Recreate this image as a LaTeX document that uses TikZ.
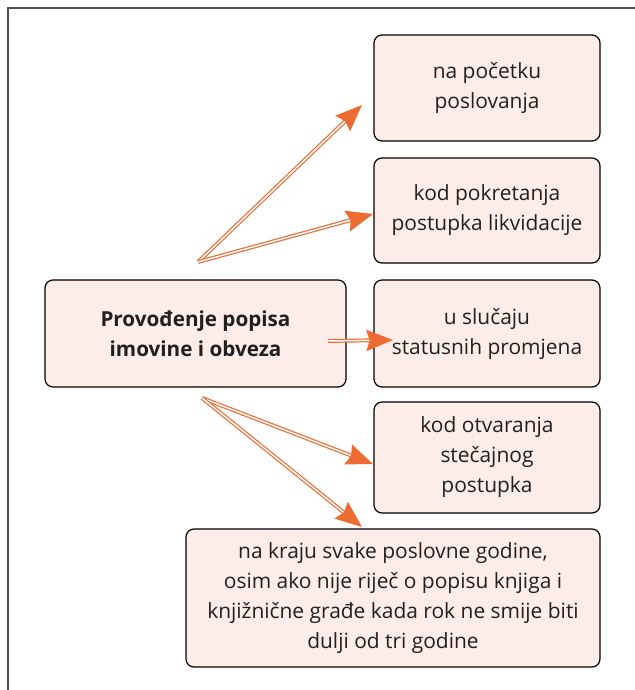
\documentclass[tikz,border=0pt]{standalone}
\usepackage{fontspec}
\setmainfont{Open Sans}
\usetikzlibrary{arrows.meta}
\definecolor{boxfill}{RGB}{252,237,232}
\definecolor{arrowc}{RGB}{236,108,52}
\definecolor{txt}{RGB}{35,31,32}
\definecolor{framec}{RGB}{80,80,80}
\tikzset{
  infobox/.style={draw=black, line width=0.9pt, rounded corners=6pt, fill=boxfill,
    text=txt, align=center, inner sep=0pt,
    font=\fontsize{15.7}{22.5}\selectfont},
  dblarrow/.style={draw=arrowc, line width=0.9pt, double=white, double distance=1.1pt,
    -{Stealth[length=20pt, width=16pt, inset=2.5pt, fill=arrowc]}},
}
\begin{document}
\begin{tikzpicture}[x=0.75pt, y=-0.75pt]
\useasboundingbox (0,0) rectangle (635,690);
% frame along the top and left edges
\draw[framec, line width=1.5pt] (7.5,690) -- (7.5,7.5) -- (635,7.5);

% boxes
\node[infobox, minimum width=301*0.75pt, minimum height=107*0.75pt,
  font=\fontsize{15.5}{22.5}\selectfont\bfseries] (main) at (195.5,333.5)
  {Provođenje popisa\\imovine i obveza};
\node[infobox, minimum width=226*0.75pt, minimum height=106*0.75pt] (b1) at (487,88)
  {na početku\\poslovanja};
\node[infobox, minimum width=226*0.75pt, minimum height=105*0.75pt] (b2) at (487,210.5)
  {kod pokretanja\\postupka likvidacije};
\node[infobox, minimum width=226*0.75pt, minimum height=107*0.75pt] (b3) at (487,333.5)
  {u slučaju\\statusnih promjena};
\node[infobox, minimum width=226*0.75pt, minimum height=111*0.75pt] (b4) at (487,457.5)
  {kod otvaranja\\stečajnog\\postupka};
\node[infobox, minimum width=414*0.75pt, minimum height=138*0.75pt] (b5) at (393,598)
  {na kraju svake poslovne godine,\\osim ako nije riječ o popisu knjiga i\\knjižnične građe kada rok ne smije biti\\dulji od tri godine};

% arrow ends
\coordinate (s1) at (198,262);
\coordinate (s2) at (328,341);
\coordinate (s3) at (202,398);
\coordinate (t1) at (362,105);
\coordinate (t2) at (373,214);
\coordinate (t3) at (393,340);
\coordinate (t4) at (373,464);
\coordinate (t5) at (362,527);

% arrows
\draw[dblarrow] (s1) -- (t1);
\draw[dblarrow] (s1) -- (t2);
\draw[dblarrow] (s2) -- (t3);
\draw[dblarrow] (s3) -- (t4);
\draw[dblarrow] (s3) -- (t5);
\end{tikzpicture}
\end{document}
